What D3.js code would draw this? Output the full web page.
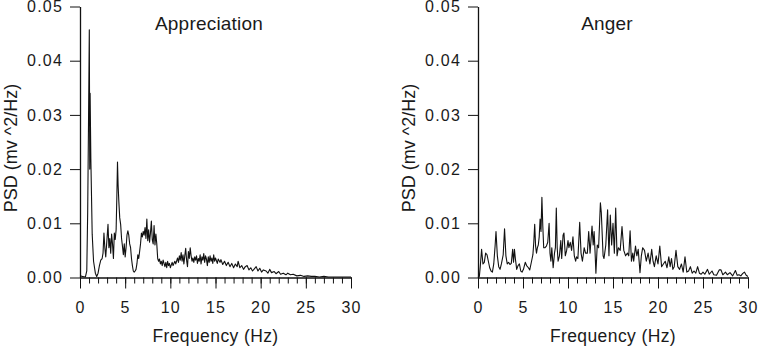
<!DOCTYPE html>
<html>
<head>
<meta charset="utf-8">
<script src="https://cdn.jsdelivr.net/npm/d3@7"></script>
<style>
body { margin: 0; background: #fff; }
svg text { font-family: "Liberation Sans", Arial, sans-serif; fill: #1a1a1a; }
</style>
</head>
<body>
<div id="chart"></div>
<script>
// tick values
const yTicks = [0, 0.01, 0.02, 0.03, 0.04, 0.05];
const xMajor = [0, 5, 10, 15, 20, 25, 30];
const xMinor = [0,1,2,3,4,5,6,7,8,9,10,11,12,13,14,15,16,17,18,19,20,21,22,23,24,25,26,27,28,29,30];

// [frequency Hz, PSD]
const appreciation = [
  [0,0.0003],[0.3,0.0002],[0.6,0.0001],[0.75,0.0012],[0.85,0.012],[0.95,0.030],[1.03,0.0457],[1.08,0.020],
  [1.12,0.034],[1.2,0.022],[1.35,0.008],[1.5,0.003],[1.7,0.0008],[1.85,0.0002],[2.0,0.0008],[2.15,0.0022],
  [2.3,0.0032],[2.45,0.0035],[2.55,0.0045],[2.65,0.0082],[2.75,0.0055],[2.85,0.0038],[2.95,0.0062],[3.1,0.0098],
  [3.2,0.0055],[3.3,0.0072],[3.4,0.0045],[3.5,0.008],[3.6,0.0062],[3.7,0.0035],[3.8,0.0082],[3.9,0.007],
  [4.0,0.0088],[4.08,0.015],[4.15,0.0213],[4.22,0.017],[4.3,0.014],[4.4,0.011],[4.5,0.0098],[4.6,0.0072],
  [4.7,0.0058],[4.8,0.0042],[4.9,0.0062],[5.0,0.0038],[5.1,0.0055],[5.2,0.0078],[5.3,0.0086],[5.4,0.0078],
  [5.5,0.0062],[5.6,0.0055],[5.7,0.0035],[5.8,0.0022],[5.9,0.0012],[6.0,0.0010],[6.1,0.0012],[6.2,0.0015],
  [6.3,0.0025],[6.4,0.0042],[6.5,0.0035],[6.6,0.0048],[6.7,0.0062],[6.8,0.0082],[6.9,0.0075],[7.0,0.0085],
  [7.1,0.0078],[7.2,0.0092],[7.3,0.0072],[7.4,0.0108],[7.5,0.0068],[7.6,0.0088],[7.7,0.0065],[7.8,0.0082],
  [7.9,0.0104],[8.0,0.0070],[8.1,0.0062],[8.2,0.0096],[8.3,0.0060],[8.4,0.0080],[8.5,0.0062],[8.6,0.0035],
  [8.7,0.0030],[8.8,0.0034],[8.9,0.0025],[9.0,0.0030],[9.1,0.0022],[9.2,0.0032],[9.3,0.0026],[9.4,0.0020],
  [9.5,0.0028],[9.6,0.0018],[9.7,0.0030],[9.8,0.0022],[9.9,0.0026],[10.0,0.0018],[10.2,0.0028],[10.3,0.0022],
  [10.5,0.0030],[10.6,0.0025],[10.8,0.0036],[10.9,0.0028],[11.0,0.0040],[11.1,0.0032],[11.2,0.0046],[11.3,0.0030],
  [11.4,0.0042],[11.5,0.0025],[11.6,0.0040],[11.7,0.0054],[11.8,0.0032],[11.9,0.0020],[12.0,0.0048],[12.1,0.0035],
  [12.2,0.0055],[12.3,0.0040],[12.4,0.0030],[12.5,0.0036],[12.6,0.0028],[12.7,0.0038],[12.8,0.0032],[12.9,0.0040],
  [13.0,0.0026],[13.1,0.0035],[13.2,0.0030],[13.3,0.0042],[13.4,0.0025],[13.5,0.0038],[13.6,0.0032],[13.7,0.0044],
  [13.8,0.0028],[13.9,0.0040],[14.0,0.0034],[14.1,0.0022],[14.2,0.0038],[14.3,0.0028],[14.4,0.0040],[14.5,0.0030],
  [14.6,0.0036],[14.7,0.0026],[14.8,0.0042],[14.9,0.0030],[15.0,0.0036],[15.2,0.0026],[15.3,0.0034],[15.5,0.0028],
  [15.6,0.0033],[15.8,0.0024],[16.0,0.0030],[16.2,0.0022],[16.4,0.0028],[16.6,0.0020],[16.8,0.0026],[17.0,0.0018],
  [17.2,0.0025],[17.4,0.0020],[17.5,0.0030],[17.7,0.0018],[17.9,0.0022],[18.1,0.0015],[18.3,0.0020],[18.5,0.0022],
  [18.7,0.0014],[18.9,0.0018],[19.1,0.0012],[19.3,0.0016],[19.5,0.0020],[19.7,0.0012],[19.9,0.0017],[20.1,0.0010],
  [20.3,0.0014],[20.6,0.0012],[20.8,0.0008],[21.0,0.0015],[21.2,0.0009],[21.5,0.0011],[21.7,0.0007],[22.0,0.0011],
  [22.2,0.0006],[22.5,0.0008],[22.8,0.0005],[23.0,0.0008],[23.3,0.0005],[23.6,0.0006],[24.0,0.0003],[24.4,0.0004],
  [24.8,0.0002],[25.2,0.0003],[25.6,0.0002],[26.0,0.0002],[26.5,0.0001],[27,0.0002],[27.5,0.0001],[28,0.0001],
  [29,0.0001],[30,0.0001]
];

const anger = [
  [0,0],[0.15,0.0002],[0.25,0.002],[0.4,0.0052],[0.55,0.0025],[0.7,0.0028],[0.85,0.0045],[1.0,0.0042],
  [1.15,0.003],[1.3,0.0018],[1.45,0.0012],[1.6,0.001],[1.75,0.0025],[1.9,0.0058],[2.0,0.0085],[2.15,0.004],
  [2.3,0.002],[2.45,0.0015],[2.6,0.0025],[2.8,0.0042],[2.95,0.009],[3.1,0.004],[3.25,0.0025],[3.4,0.0028],
  [3.55,0.0024],[3.7,0.0026],[3.85,0.0052],[3.95,0.0028],[4.05,0.0052],[4.15,0.0035],[4.3,0.0015],[4.45,0.0022],
  [4.6,0.0025],[4.75,0.0012],[4.9,0.0010],[5.05,0.0015],[5.25,0.0028],[5.4,0.0022],[5.6,0.0018],[5.75,0.0014],
  [5.95,0.003],[6.1,0.0042],[6.2,0.0065],[6.3,0.0098],[6.4,0.0058],[6.5,0.0045],[6.6,0.0055],[6.7,0.006],
  [6.8,0.0075],[6.9,0.0108],[7.0,0.0085],[7.1,0.0148],[7.2,0.0095],[7.3,0.0055],[7.45,0.0055],[7.6,0.0058],
  [7.75,0.0065],[7.9,0.01],[8.0,0.0045],[8.1,0.003],[8.2,0.0055],[8.35,0.0018],[8.5,0.0045],[8.6,0.0055],
  [8.7,0.0128],[8.8,0.0055],[8.9,0.003],[9.05,0.004],[9.2,0.0068],[9.3,0.0035],[9.45,0.0078],[9.55,0.0082],
  [9.7,0.004],[9.85,0.005],[10.0,0.0068],[10.1,0.0055],[10.25,0.0065],[10.4,0.005],[10.55,0.0075],[10.7,0.004],
  [10.85,0.003],[10.95,0.0038],[11.1,0.0035],[11.3,0.0102],[11.45,0.0045],[11.6,0.003],[11.7,0.0042],[11.8,0.0055],
  [11.95,0.0045],[12.15,0.0045],[12.3,0.0085],[12.45,0.0045],[12.67,0.0095],[12.8,0.006],[12.9,0.0085],[13.0,0.005],
  [13.1,0.0008],[13.25,0.006],[13.4,0.0055],[13.6,0.0138],[13.7,0.012],[13.8,0.008],[13.9,0.004],[14.0,0.0035],
  [14.2,0.006],[14.4,0.0125],[14.55,0.004],[14.7,0.0115],[14.85,0.006],[15.0,0.01],[15.15,0.0045],[15.3,0.0128],
  [15.45,0.004],[15.6,0.0055],[15.8,0.005],[16.0,0.0094],[16.2,0.005],[16.4,0.004],[16.6,0.0045],[16.75,0.004],
  [16.9,0.0086],[17.05,0.003],[17.2,0.0045],[17.3,0.003],[17.5,0.0058],[17.65,0.004],[17.8,0.0052],[18.0,0.0009],
  [18.15,0.004],[18.3,0.0055],[18.5,0.005],[18.7,0.003],[18.9,0.0045],[19.1,0.0025],[19.3,0.0052],[19.45,0.003],
  [19.6,0.002],[19.8,0.004],[20.0,0.0025],[20.2,0.0058],[20.4,0.002],[20.6,0.0025],[20.8,0.003],[21.0,0.0018],
  [21.2,0.0038],[21.35,0.002],[21.5,0.0035],[21.65,0.0015],[21.8,0.002],[22.0,0.005],[22.2,0.002],[22.4,0.0015],
  [22.6,0.0025],[22.8,0.001],[23.0,0.0038],[23.2,0.001],[23.4,0.0012],[23.6,0.002],[23.8,0.0008],[24.0,0.0012],
  [24.2,0.0008],[24.4,0.002],[24.6,0.0008],[24.8,0.0006],[25.0,0.001],[25.2,0.0006],[25.5,0.0015],[25.7,0.0006],
  [26.0,0.0012],[26.2,0.0005],[26.5,0.0004],[26.8,0.0014],[27.0,0.0014],[27.2,0.0005],[27.5,0.001],[27.7,0.0005],
  [28.0,0.0009],[28.3,0.0003],[28.6,0.0013],[28.8,0.0004],[29.0,0.0005],[29.2,0.0003],[29.4,0.0007],[29.6,0.001],
  [29.8,0.0004],[30.0,0.0002]
];

const panels = [
  { title: "Appreciation", data: appreciation, left: 80, right: 351 },
  { title: "Anger", data: anger, left: 478, right: 748 }
];

const width = 758, height = 348;
const plotTop = 6.5, plotBottom = 277.5;

const svg = d3.select("#chart")
  .append("svg")
  .attr("width", width)
  .attr("height", height);

svg.append("rect").attr("width", width).attr("height", height).attr("fill", "#fff");

function drawPanel(p) {
  const x = d3.scaleLinear().domain([0, 30]).range([p.left, p.right]);
  const y = d3.scaleLinear().domain([0, 0.05]).range([plotBottom, plotTop]);

  //minor x ticks
  const minor = svg.append("g")
    .attr("transform", "translate(0," + plotBottom + ")")
    .call(d3.axisBottom(x).tickValues(xMinor).tickSize(6).tickFormat(""));
  minor.select(".domain").remove();

  //major x ticks + labels
  const gx = svg.append("g")
    .attr("transform", "translate(0," + plotBottom + ")")
    .call(d3.axisBottom(x).tickValues(xMajor).tickSize(11).tickSizeOuter(0).tickPadding(13));
  gx.selectAll("text")
    .style("font-size", "16px")
    .style("letter-spacing", "1.2px");

  //y axis
  const gy = svg.append("g")
    .attr("transform", "translate(" + p.left + ",0)")
    .call(d3.axisLeft(y).tickValues(yTicks).tickSize(10).tickSizeOuter(0).tickPadding(7).tickFormat(d3.format(".2f")));
  gy.selectAll("text")
    .style("font-size", "16px")
    .style("letter-spacing", "1.2px");

  svg.selectAll(".domain").attr("stroke", "#111").attr("stroke-width", 1.3);
  svg.selectAll(".tick line").attr("stroke", "#111");

  //title
  svg.append("text")
    .attr("x", p.left + 129)
    .attr("y", 30)
    .attr("text-anchor", "middle")
    .style("font-size", "19px")
    .style("letter-spacing", "0.2px")
    .text(p.title);

  //x label
  svg.append("text")
    .attr("x", (p.left + p.right) / 2)
    .attr("y", 342)
    .attr("text-anchor", "middle")
    .style("font-size", "17.5px")
    .style("letter-spacing", "0.4px")
    .text("Frequency (Hz)");

  //y label
  svg.append("text")
    .attr("transform", "translate(" + (p.left - 63) + ",148) rotate(-90)")
    .attr("text-anchor", "middle")
    .style("font-size", "18px")
    .text("PSD (mv ^2/Hz)");

  //spectrum
  const line = d3.line()
    .x(d => x(d[0]))
    .y(d => y(d[1]));
  svg.append("path")
    .datum(p.data)
    .attr("fill", "none")
    .attr("stroke", "#111")
    .attr("stroke-width", 1.1)
    .attr("stroke-linejoin", "round")
    .attr("d", line);
}

panels.forEach(drawPanel);
</script>
</body>
</html>
